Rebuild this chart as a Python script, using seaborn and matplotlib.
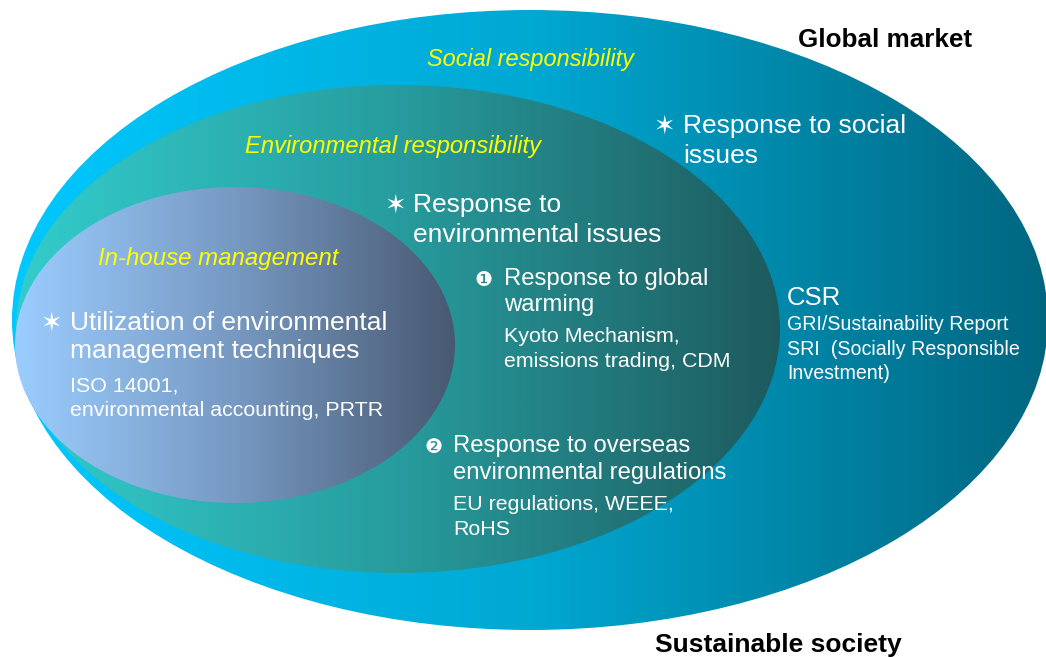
import numpy as np
import matplotlib
matplotlib.use("Agg")
import matplotlib.pyplot as plt
from matplotlib.patches import Ellipse
import seaborn as sns

sns.set_theme(style="white")
plt.rcParams["font.family"] = ["Liberation Sans", "DejaVu Sans"]

W, H = 1046, 657

# ---- diagram data: nested ellipses (pixel space) ----
ring_labels = ["Social responsibility", "Environmental responsibility", "In-house management"]
ring_cx = [530, 398, 235]
ring_cy = [320, 329, 345]
ring_w = [1036, 764, 440]
ring_h = [620, 488, 316]
ring_palettes = [
    ["#00C8FF", "#00A8D2", "#006680"],
    ["#33CCCC", "#279C9E", "#1D5A5E"],
    ["#9BCDFF", "#7799C2", "#485972"],
]

outer_titles = ["Global market", "Sustainable society"]
env_head = ["Response to", "environmental issues"]
social_head = ["Response to social", "issues"]
item1_head = ["Response to global", "warming"]
item1_sub = ["Kyoto Mechanism,", "emissions trading, CDM"]
item2_head = ["Response to overseas", "environmental regulations"]
item2_sub = ["EU regulations, WEEE,", "RoHS"]
csr_head = ["CSR"]
csr_sub = ["GRI/Sustainability Report", "SRI  (Socially Responsible", "Investment)"]
inhouse_head = ["Utilization of environmental", "management techniques"]
inhouse_sub = ["ISO 14001,", "environmental accounting, PRTR"]

fig = plt.figure(figsize=(W / 100, H / 100), dpi=100)
ax = fig.add_axes([0, 0, 1, 1])
ax.set_xlim(0, W)
ax.set_ylim(H, 0)
ax.axis("off")

grad = np.linspace(0, 1, 512)[None, :]
for i in range(len(ring_cx)):
    e = Ellipse((ring_cx[i], ring_cy[i]), ring_w[i], ring_h[i],
                facecolor="none", edgecolor="none", zorder=i)
    ax.add_patch(e)
    cmap = sns.blend_palette(ring_palettes[i], as_cmap=True)
    x0 = ring_cx[i] - ring_w[i] / 2
    x1 = ring_cx[i] + ring_w[i] / 2
    y0 = ring_cy[i] - ring_h[i] / 2
    y1 = ring_cy[i] + ring_h[i] / 2
    im = ax.imshow(grad, cmap=cmap, extent=(x0, x1, y1, y0), aspect="auto",
                   interpolation="bilinear", zorder=i + 0.5)
    im.set_clip_path(e)

ax.set_xlim(0, W)
ax.set_ylim(H, 0)

YEL = "#FFFF00"
WHITE = "white"
ring_pos = [(427, 66), (245, 153), (98, 265)]
ring_sizes = [16.9, 17.1, 17.3]
for lab, (x, y), s in zip(ring_labels, ring_pos, ring_sizes):
    ax.text(x, y, lab, color=YEL, style="italic", fontsize=s,
            ha="left", va="baseline", zorder=10)

ax.text(798, 47, outer_titles[0], color="black", weight="bold", fontsize=18.7,
        ha="left", va="baseline", zorder=10)
ax.text(655, 652, outer_titles[1], color="black", weight="bold", fontsize=19.0,
        ha="left", va="baseline", zorder=10)


def lines(x, ys, texts, size):
    for y, t in zip(ys, texts):
        ax.text(x, y, t, color=WHITE, fontsize=size, ha="left", va="baseline", zorder=10)


def mark(x, y, ch, size):
    ax.text(x, y, ch, color=WHITE, fontsize=size, ha="left", va="baseline",
            family=["DejaVu Sans"], zorder=10)


# stars
mark(654, 134, "\u2736", 18.5)
lines(683, [133, 163], social_head, 19)

mark(385, 213, "\u2736", 18.5)
lines(413, [212, 242], env_head, 19)

mark(41, 331, "\u2736", 18.5)
lines(70, [330, 358], inhouse_head, 19)
lines(70, [392, 416], inhouse_sub, 15.4)

mark(474, 286, "\u2776", 14.5)
lines(504, [285, 311], item1_head, 17.2)
lines(504, [342, 367], item1_sub, 15.4)

mark(424, 453, "\u2777", 14.5)
lines(453, [452, 479], item2_head, 17.2)
lines(453, [510, 535], item2_sub, 15.4)

lines(787, [305], csr_head, 18.5)
lines(787, [330, 355, 379], csr_sub, 14.1)

fig.savefig("out.png", dpi=100)
